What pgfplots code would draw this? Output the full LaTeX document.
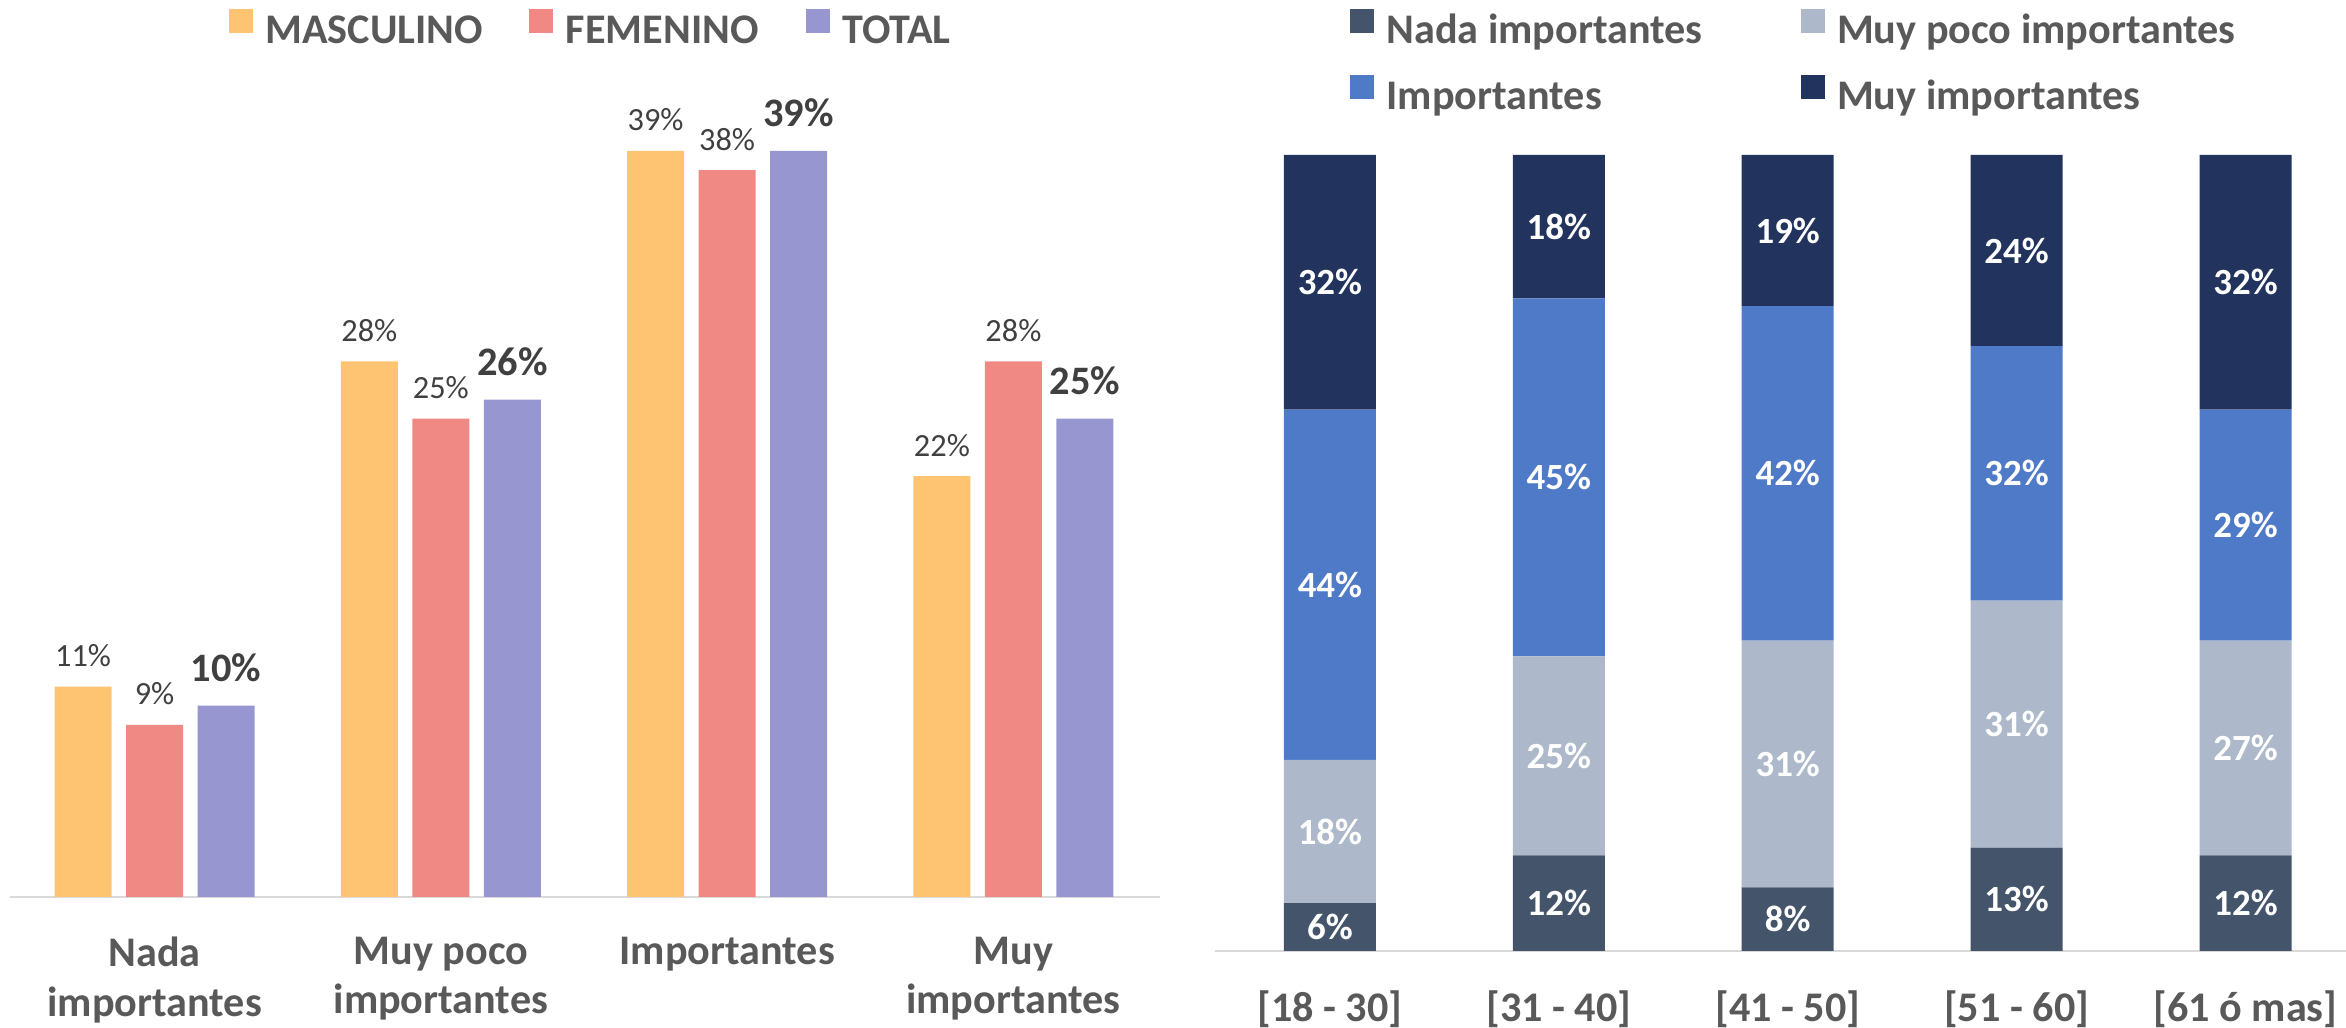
\documentclass[border=0pt]{standalone}
\usepackage{fontspec}
\setmainfont{Carlito}
\usepackage{pgfplots}
\pgfplotsset{compat=1.18}
\definecolor{masc}{HTML}{FFC472}
\definecolor{fem}{HTML}{F08983}
\definecolor{tot}{HTML}{9896D0}
\definecolor{nada}{HTML}{44546A}
\definecolor{poco}{HTML}{ADB9CA}
\definecolor{imp}{HTML}{4E7AC7}
\definecolor{muy}{HTML}{22345E}
\definecolor{txt}{HTML}{595959}
\definecolor{lbl}{HTML}{404040}
\definecolor{baseln}{HTML}{D9D9D9}

\pgfplotsset{
  common/.style={
    scale only axis, clip=false,
    axis x line=bottom, axis y line=none,
    axis line style={draw=baseln, line width=0.7pt, -},
    major tick length=0pt, xtick style={draw=none},
    ticklabel style={font=\bfseries\fontsize{12}{14.2}\selectfont, text=txt},
    xticklabel style={align=center, inner sep=0pt, anchor=north, yshift=-3.9mm},
    /pgf/number format/assume math mode=true,
    legend cell align=left,
    legend style={draw=none, fill=none, inner sep=0pt, outer sep=0pt,
      font=\bfseries\fontsize{12}{14}\selectfont, text=txt,
      nodes={inner sep=0pt, text height=3.2mm, text depth=1.2mm},
      /tikz/every odd column/.style={column sep=1.25mm},
      /tikz/every even column/.style={column sep=0pt}},
  },
  sq legend/.style={legend image code/.code={\fill[##1,draw=none] (0mm,0mm) rectangle (2.4mm,2.4mm);}},
  small lbl/.style={nodes near coords={\pgfmathprintnumber{\pgfplotspointmeta}\%},
    every node near coord/.append style={font=\fontsize{9.2}{11}\selectfont, text=lbl,
      anchor=base, inner sep=0pt, yshift=2mm}},
  big lbl/.style={nodes near coords={\pgfmathprintnumber{\pgfplotspointmeta}\%},
    every node near coord/.append style={font=\bfseries\fontsize{11.5}{13}\selectfont, text=lbl,
      anchor=base, inner sep=0pt, yshift=2.4mm}},
}

\begin{document}
\begin{tikzpicture}
\path[use as bounding box] (0,0) rectangle (234.6mm,102.8mm);

% left: by sex
\begin{axis}[common,
  at={(1.0mm,13.1mm)}, anchor=south west,
  width=115mm, height=86.085mm,
  xmin=-0.505, xmax=3.512, ymin=0, ymax=45,
  ybar=1.45mm, bar width=5.7mm, sq legend,
  xtick={0,1,2,3},
  xticklabels={{Nada\\importantes},{Muy poco\\importantes},{Importantes},{Muy\\importantes}},
  legend columns=3,
  legend style={at={(0.1904,1.0315)}, anchor=north west},
]
\addplot[fill=masc, draw=none, small lbl] coordinates {(0,11) (1,28) (2,39) (3,22)};
\addplot[fill=fem, draw=none, small lbl] coordinates {(0,9) (1,25) (2,38) (3,28)};
\addplot[fill=tot, draw=none, big lbl] coordinates {(0,10) (1,26) (2,39) (3,25)};
\legend{\makebox[26.4mm][l]{MASCULINO},\makebox[24.0mm][l]{FEMENINO},TOTAL}
\end{axis}

% right: by age
\begin{axis}[common,
  at={(121.5mm,7.7mm)}, anchor=south west,
  width=113.1mm, height=79.6mm,
  xmin=-0.502, xmax=4.439, ymin=0, ymax=100,
  ybar stacked, bar width=9.2mm, sq legend,
  xtick={0,1,2,3,4},
  xticklabels={{[18 - 30]},{[31 - 40]},{[41 - 50]},{[51 - 60]},{[61 ó mas]}},
  nodes near coords={\pgfmathprintnumber{\pgfplotspointmeta}\%},
  every node near coord/.append style={font=\bfseries\fontsize{10.5}{12}\selectfont,
    text=white, anchor=center, inner sep=0pt},
  legend columns=2,
  legend style={at={(0.1194,1.1834)}, anchor=north west, /tikz/row sep=2.0mm},
]
\addplot[fill=nada, draw=none] coordinates {(0,6) (1,12) (2,8) (3,13) (4,12)};
\addplot[fill=poco, draw=none] coordinates {(0,18) (1,25) (2,31) (3,31) (4,27)};
\addplot[fill=imp, draw=none] coordinates {(0,44) (1,45) (2,42) (3,32) (4,29)};
\addplot[fill=muy, draw=none] coordinates {(0,32) (1,18) (2,19) (3,24) (4,32)};
\legend{\makebox[41.4mm][l]{Nada importantes},Muy poco importantes,\makebox[41.4mm][l]{Importantes},Muy importantes}
\end{axis}
\end{tikzpicture}
\end{document}
